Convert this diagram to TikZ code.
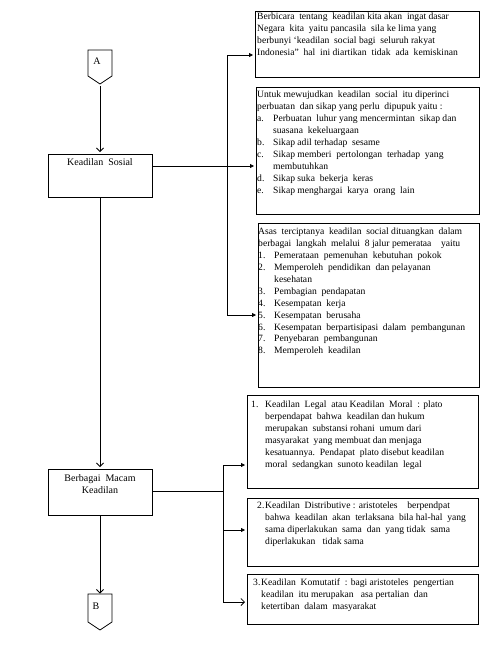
\documentclass[tikz,border=0pt]{standalone}
\usepackage{fontspec}
\setmainfont{Liberation Serif}
\usetikzlibrary{arrows.meta}
\newcommand\itmA[1]{\makebox[16pt][l]{#1}}
\newcommand\indA{\hspace*{16pt}}
\newcommand\itmB[1]{\makebox[14pt][l]{#1}}
\newcommand\indB{\hspace*{14pt}}
\newcommand\itmC[1]{\makebox[8pt][l]{#1}}
\newcommand\indC{\hspace*{8pt}}
\begin{document}
\begin{tikzpicture}[x=1pt,y=-1pt,
  box/.style={draw, line width=0.9pt, anchor=north west, inner sep=0pt, outer sep=0pt},
  txt/.style={anchor=north west, inner sep=0pt, align=left, font=\fontsize{9.6}{11.9}\selectfont},
  ctxt/.style={anchor=north, inner sep=0pt, align=center, font=\fontsize{10}{12}\selectfont},
  conn/.style={line width=0.8pt},
  filled/.style={conn, -{Triangle[length=4pt,width=4pt]}, shorten >=2pt},
  openarr/.style={conn, -{Straight Barb[length=3.5pt,width=7pt]}}]
\useasboundingbox (0,0) rectangle (493,649);

% helper rows
\coordinate (r1) at (0,55);
\coordinate (r2) at (0,166);
\coordinate (r3) at (0,315);
\coordinate (r4) at (0,465);
\coordinate (r5) at (0,530);
\coordinate (r6) at (0,602);

% off-page connectors
\draw[line width=0.8pt] (88,50) -- (112,50) -- (112,76) -- (100,84) -- (88,76) -- cycle;
\node[ctxt] (A) at (97,58) {A};
\coordinate (Apt) at (100,86);
\draw[line width=0.8pt] (88,594) -- (112,594) -- (112,622) -- (100,630) -- (88,622) -- cycle;
\node[ctxt] (B) at (96,603) {B};
\coordinate (Btop) at (100,594);

% left boxes
\node[box, minimum width=104pt, minimum height=43pt] (ks) at (48,154) {};
\node[ctxt] (kst) at (100,158) {Keadilan\ \ Sosial};
\node[box, minimum width=104pt, minimum height=46pt] (bm) at (48,469) {};
\node[ctxt] (bmt) at (100,474) {Berbagai\ \ Macam\\Keadilan};

% right boxes
\node[box, minimum width=224pt, minimum height=66pt] (b1) at (255,11) {};
\node[txt] (t1) at (257,13) {Berbicara\ \ tentang\ \ keadilan kita akan\ \ ingat dasar\\
Negara\ \ kita\ \ yaitu pancasila\ \ sila ke lima yang\\
berbunyi ‘keadilan\ \ social bagi\ \ seluruh rakyat\\
Indonesia"\ \ hal\ \ ini diartikan\ \ tidak\ \ ada\ \ kemiskinan};

\node[box, minimum width=223pt, minimum height=127pt] (b2) at (256,87) {};
\node[txt] (t2) at (257,91) {Untuk mewujudkan\ \ keadilan\ \ social\ \ itu diperinci\\
perbuatan\ \ dan sikap yang perlu\ \ dipupuk yaitu :\\
\itmA{a.}Perbuatan\ \ luhur yang mencermintan\ \ sikap dan\\
\indA suasana\ \ kekeluargaan\\
\itmA{b.}Sikap adil terhadap\ \ sesame\\
\itmA{c.}Sikap memberi\ \ pertolongan\ \ terhadap\ \ yang\\
\indA membutuhkan\\
\itmA{d.}Sikap suka\ \ bekerja\ \ keras\\
\itmA{e.}Sikap menghargai\ \ karya\ \ orang\ \ lain};

\node[box, minimum width=221pt, minimum height=164pt] (b3) at (258,223) {};
\node[txt] (t3) at (258,228) {Asas\ \ terciptanya\ \ keadilan\ \ social dituangkan\ \ dalam\\
berbagai\ \ langkah\ \ melalui\ \ 8 jalur pemerataa\ \ \ \ yaitu\\
\itmA{1.}Pemerataan\ \ pemenuhan\ \ kebutuhan\ \ pokok\\
\itmA{2.}Memperoleh\ \ pendidikan\ \ dan pelayanan\\
\indA kesehatan\\
\itmA{3.}Pembagian\ \ pendapatan\\
\itmA{4.}Kesempatan\ \ kerja\\
\itmA{5.}Kesempatan\ \ berusaha\\
\itmA{6.}Kesempatan\ \ berpartisipasi\ \ dalam\ \ pembangunan\\
\itmA{7.}Penyebaran\ \ pembangunan\\
\itmA{8.}Memperoleh\ \ keadilan};

\node[box, minimum width=231pt, minimum height=93pt] (b4) at (247,395) {};
\node[txt] (t4) at (251,401) {\itmB{1.}Keadilan\ \ Legal\ \ atau Keadilan\ \ Moral\ \ : plato\\
\indB berpendapat\ \ bahwa\ \ keadilan dan hukum\\
\indB merupakan\ \ substansi rohani\ \ umum dari\\
\indB masyarakat\ \ yang membuat dan menjaga\\
\indB kesatuannya.\ \ Pendapat\ \ plato disebut keadilan\\
\indB moral\ \ sedangkan\ \ sunoto keadilan\ \ legal};

\node[box, minimum width=231pt, minimum height=68pt] (b5) at (247,498) {};
\node[txt] (t5) at (257,502) {\itmC{2.}Keadilan\ \ Distributive : aristoteles\ \ \ \ berpendpat\\
\indC bahwa\ \ keadilan\ \ akan\ \ terlaksana\ \ bila hal-hal\ \ yang\\
\indC sama diperlakukan\ \ sama\ \ dan\ \ yang tidak\ \ sama\\
\indC diperlakukan\ \ \ tidak sama};

\node[box, minimum width=231pt, minimum height=50pt] (b6) at (247,574) {};
\node[txt] (t6) at (253,579) {\itmC{3.}Keadilan\ \ Komutatif\ \ : bagi aristoteles\ \ pengertian\\
\indC keadilan\ \ itu merupakan\ \ \ asa pertalian\ \ dan\\
\indC ketertiban\ \ dalam\ \ masyarakat};

% vertical flow
\draw[openarr, shorten >=2pt] (Apt) -- (ks.north);
\draw[openarr, shorten >=2pt] (ks.south) -- (bm.north);
\draw[openarr, shorten >=0.5pt] (bm.south) -- (Btop);

% branch 1
\coordinate (j1) at (227,166);
\draw[filled] (ks.east |- r2) -- (b2.west |- r2);
\draw[filled] (j1) |- (b1.west |- r1);
\draw[filled] (j1) |- (b3.west |- r3);

% branch 2
\coordinate (j2) at (223,491);
\draw[conn] (bm.east |- j2) -- (j2);
\draw[filled] (j2) |- (b4.west |- r4);
\draw[filled] (j2) |- (b5.west |- r5);
\draw[openarr, shorten >=2pt] (j2) |- (b6.west |- r6);
\end{tikzpicture}
\end{document}
